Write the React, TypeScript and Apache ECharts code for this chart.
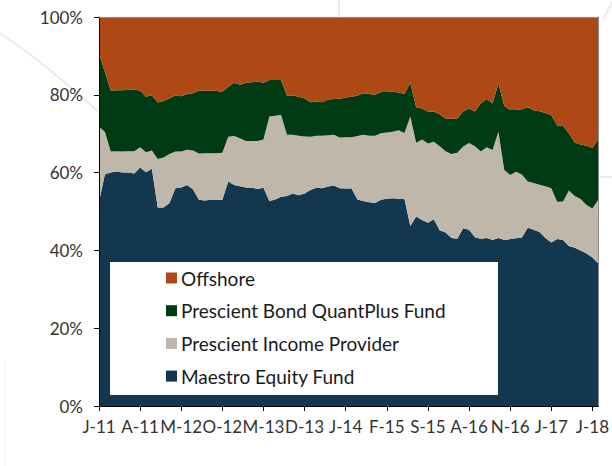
import React, { useEffect, useRef } from "react";
import * as echarts from "echarts";

// Month letters and start year for the monthly category axis (Jan 2011 – Feb 2018)
const MONTH_LETTERS = ["J", "F", "M", "A", "M", "J", "J", "A", "S", "O", "N", "D"];
const START_YEAR = 11;
const N_MONTHS = 86;
const categories: string[] = Array.from({ length: N_MONTHS }, (_, i) =>
  `${MONTH_LETTERS[i % 12]}-${START_YEAR + Math.floor(i / 12)}`
);

const SERIES_NAMES = [
  "Maestro Equity Fund",
  "Prescient Income Provider",
  "Prescient Bond QuantPlus Fund",
  "Offshore",
];

const maestro = [
  52.5, 59.5, 60.0, 60.3, 60.0, 60.0, 59.8, 61.3, 60.1, 61.0,
  51.0, 51.0, 52.2, 56.0, 56.2, 56.8, 55.7, 53.0, 52.8, 53.0,
  53.0, 53.0, 57.7, 56.8, 56.5, 56.2, 56.1, 55.8, 56.1, 52.7,
  53.1, 53.8, 54.0, 54.6, 54.2, 54.6, 55.5, 56.1, 56.0, 56.4,
  56.7, 56.0, 55.9, 55.9, 53.1, 52.7, 52.4, 52.2, 53.0, 53.3,
  53.4, 53.3, 53.3, 46.3, 48.7, 47.8, 47.1, 48.0, 45.2, 44.6,
  43.2, 43.0, 45.7, 45.3, 43.4, 43.0, 43.2, 42.7, 43.2, 42.7,
  42.9, 43.1, 43.3, 45.8, 45.3, 44.7, 43.2, 42.0, 42.9, 42.7,
  41.1, 40.7, 40.0, 39.2, 38.2, 36.7,
];
const income = [
  19.3, 11.0, 5.4, 5.2, 5.4, 5.5, 5.7, 5.2, 5.1, 4.7,
  12.5, 12.9, 12.6, 9.4, 9.2, 9.1, 10.0, 11.9, 12.2, 12.0,
  12.0, 12.1, 11.5, 12.6, 12.3, 11.9, 12.0, 12.3, 12.4, 21.7,
  21.5, 21.0, 15.7, 15.1, 15.3, 14.7, 13.7, 13.4, 13.5, 13.2,
  13.0, 13.0, 13.2, 13.2, 16.3, 17.0, 17.1, 17.3, 17.1, 17.0,
  17.1, 17.6, 16.9, 28.1, 19.0, 20.7, 20.4, 19.9, 21.6, 20.9,
  21.6, 22.1, 21.0, 22.3, 23.4, 22.4, 23.3, 23.1, 27.3, 18.0,
  16.5, 17.1, 16.2, 11.9, 12.0, 12.2, 13.3, 14.0, 9.6, 9.9,
  14.3, 13.3, 13.2, 12.5, 12.6, 16.3,
];
const bond = [
  18.8, 15.4, 15.7, 15.7, 15.8, 15.8, 15.8, 14.6, 14.3, 14.2,
  14.5, 14.5, 14.3, 14.4, 14.2, 14.3, 14.7, 16.2, 16.1, 16.1,
  16.0, 15.7, 12.9, 13.7, 13.8, 15.0, 15.1, 15.3, 14.6, 9.4,
  9.2, 9.0, 10.1, 10.1, 10.0, 9.8, 8.9, 8.8, 8.6, 9.2,
  9.2, 10.0, 10.2, 10.4, 10.4, 10.7, 10.7, 10.5, 10.6, 10.4,
  10.3, 9.7, 10.0, 8.7, 9.1, 8.0, 8.2, 7.8, 8.2, 8.4,
  9.1, 8.8, 9.1, 8.9, 8.9, 12.4, 12.4, 12.0, 12.4, 16.4,
  16.7, 15.9, 16.8, 19.1, 18.7, 18.9, 18.8, 18.8, 19.7, 19.4,
  14.7, 13.7, 14.0, 15.2, 15.6, 15.5,
];
const offshore = [
  9.4, 14.1, 18.9, 18.8, 18.8, 18.7, 18.7, 18.9, 20.5, 20.1,
  22.0, 21.6, 20.9, 20.2, 20.4, 19.8, 19.6, 18.9, 18.9, 18.9,
  19.0, 19.2, 17.9, 16.9, 17.4, 16.9, 16.8, 16.6, 16.9, 16.2,
  16.2, 16.2, 20.2, 20.2, 20.5, 20.9, 21.9, 21.7, 21.9, 21.2,
  21.1, 21.0, 20.7, 20.5, 20.2, 19.6, 19.8, 20.0, 19.3, 19.3,
  19.2, 19.4, 19.8, 16.9, 23.2, 23.5, 24.3, 24.3, 25.0, 26.1,
  26.1, 26.1, 24.2, 23.5, 24.3, 22.2, 21.1, 22.2, 17.1, 22.9,
  23.9, 23.9, 23.7, 23.2, 24.0, 24.2, 24.7, 25.2, 27.8, 28.0,
  29.9, 32.3, 32.8, 33.1, 33.6, 31.5,
];

const COLORS = ["#12374f", "#c0b7ab", "#013b14", "#ae4814"];
const FONT = "Lato, 'Open Sans', sans-serif";

export default function App() {
  const ref = useRef<HTMLDivElement>(null);
  useEffect(() => {
    if (!ref.current) return;
    const chart = echarts.init(ref.current, undefined, { renderer: "svg" });
    const values = [maestro, income, bond, offshore];
    const deco = { stroke: "#ebebeb", lineWidth: 2, fill: "none" };
    chart.setOption({
      animation: false,
      backgroundColor: "#ffffff",
      grid: { left: 99, right: 12, top: 17, bottom: 60, containLabel: false },
      graphic: [
        { type: "polyline", z: 0, shape: { points: [[0, 33], [40, 62], [99, 112]], smooth: 0.3 }, style: deco, silent: true },
        { type: "line", z: 0, shape: { x1: 339, y1: 0, x2: 339, y2: 17 }, style: deco, silent: true },
        { type: "line", z: 0, shape: { x1: 603, y1: 20, x2: 612, y2: 2 }, style: deco, silent: true },
        { type: "line", z: 0, shape: { x1: 600, y1: 177, x2: 612, y2: 177 }, style: deco, silent: true },
        { type: "line", z: 0, shape: { x1: 5, y1: 360, x2: 5, y2: 466 }, style: { stroke: "#f4f4f4", lineWidth: 1 }, silent: true },
        { type: "rect", z: 50, shape: { x: 110, y: 262, width: 388, height: 133 }, style: { fill: "#ffffff" }, silent: true },
      ],
      legend: {
        z: 100,
        orient: "vertical",
        left: 166,
        top: 268,
        icon: "rect",
        itemWidth: 11,
        itemHeight: 11,
        itemGap: 12.7,
        padding: 0,
        data: ["Offshore", "Prescient Bond QuantPlus Fund", "Prescient Income Provider", "Maestro Equity Fund"],
        textStyle: { fontFamily: FONT, fontSize: 19, color: "#1a1a1a", lineHeight: 20, padding: [0, 0, 0, -1] },
      },
      xAxis: [
        {
          type: "category",
          data: categories,
          boundaryGap: false,
          z: 10,
          axisLine: { show: true, lineStyle: { color: "#000000", width: 1 } },
          axisTick: { show: true, interval: 6, length: 5, lineStyle: { color: "#000000" } },
          axisLabel: { interval: 6, margin: 12, fontFamily: FONT, fontSize: 17, color: "#333333" },
          splitLine: { show: false },
        },
        {
          type: "category",
          data: categories,
          boundaryGap: false,
          position: "top",
          z: 10,
          axisLine: { show: true, onZero: false, lineStyle: { color: "#8a8a8a", width: 1 } },
          axisTick: { show: false },
          axisLabel: { show: false },
          splitLine: { show: false },
        },
      ],
      yAxis: [
        {
          type: "value",
          min: 0,
          max: 100,
          interval: 20,
          z: 10,
          axisLine: { show: true, lineStyle: { color: "#000000", width: 1 } },
          axisTick: { show: true, length: 5, lineStyle: { color: "#000000" } },
          axisLabel: { formatter: "{value}%", margin: 16, fontFamily: FONT, fontSize: 17, color: "#333333" },
          splitLine: { show: false },
        },
        {
          type: "value",
          min: 0,
          max: 100,
          interval: 20,
          position: "right",
          z: 10,
          axisLine: { show: true, onZero: false, lineStyle: { color: "#8a8a8a", width: 1 } },
          axisTick: { show: false },
          axisLabel: { show: false },
          splitLine: { show: false },
        },
      ],
      series: SERIES_NAMES.map((name, k) => ({
        name,
        type: "line",
        stack: "total",
        data: values[k],
        symbol: "none",
        showSymbol: false,
        lineStyle: { width: 0, color: COLORS[k] },
        itemStyle: { color: COLORS[k] },
        areaStyle: { color: COLORS[k], opacity: 1 },
        emphasis: { disabled: true },
      })),
    });
    return () => chart.dispose();
  }, []);
  return (
    <div
      ref={ref}
      style={{ position: "fixed", left: 0, top: 0, width: 612, height: 466 }}
    />
  );
}
